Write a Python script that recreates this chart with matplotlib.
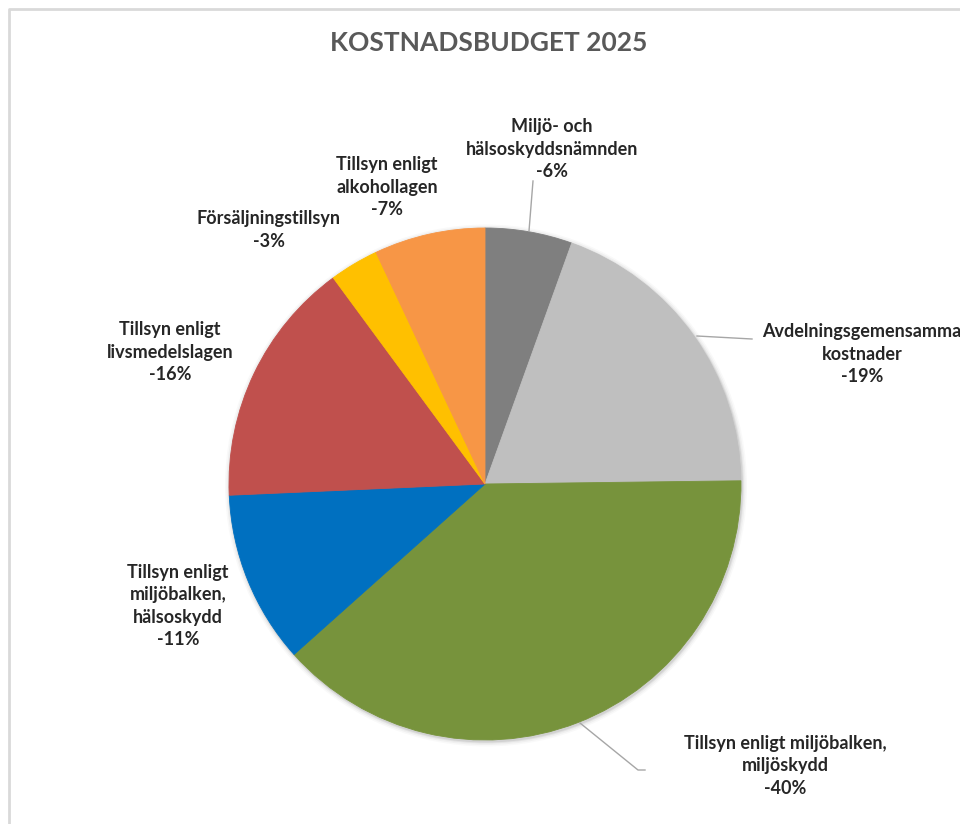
import matplotlib.pyplot as plt
from matplotlib.patches import Circle

# Slice data (clockwise from 12 o'clock)
categories = [
    'Miljö- och\nhälsoskyddsnämnden',
    'Avdelningsgemensamma\nkostnader',
    'Tillsyn enligt miljöbalken,\nmiljöskydd',
    'Tillsyn enligt\nmiljöbalken,\nhälsoskydd',
    'Tillsyn enligt\nlivsmedelslagen',
    'Försäljningstillsyn',
    'Tillsyn enligt\nalkohollagen',
]
values = [5.5, 19.3, 38.6, 10.9, 15.6, 3.1, 7.0]
pct_labels = ['-6%', '-19%', '-40%', '-11%', '-16%', '-3%', '-7%']
colors = ['#7f7f7f', '#bfbfbf', '#77933c', '#0070c0', '#c0504d', '#ffc000', '#f79646']

W, H = 960, 824


def px(x, y):
    # pixel position (origin top-left) -> axes data coords
    return x, H - y


fig = plt.figure(figsize=(W / 100, H / 100), dpi=100)
ax = fig.add_axes([0, 0, 1, 1])

cx, cy = px(485, 484)
radius = 256

# soft shadow around the pie
for extra, a in [(5, 0.025), (3.5, 0.035), (2, 0.05), (1, 0.07)]:
    ax.add_patch(Circle((cx + 1, cy - 1.5), radius + extra, color='black', alpha=a, lw=0, zorder=0))

ax.pie(values, colors=colors, startangle=90, counterclock=False,
       center=(cx, cy), radius=radius,
       wedgeprops=dict(linewidth=0.6, antialiased=True))
for w in ax.patches[4:]:
    w.set_edgecolor(w.get_facecolor())

ax.set_xlim(0, W)
ax.set_ylim(0, H)
ax.set_aspect('equal')
ax.axis('off')

# chart frame (light gray border, cut off at right/bottom)
ax.plot([8.5, 8.5, W + 5], [-5, H - 8.5, H - 8.5], color='#d9d9d9', lw=2, clip_on=False)

# title
ax.text(*px(489, 43), 'KOSTNADSBUDGET 2025', ha='center', va='center',
        fontsize=19, fontweight='bold', color='#595959', family='Lato')

# data labels (layout positions in pixels)
label_pos = [(552, 149), (862, 354), (785, 766), (178, 606), (170, 352), (269, 230), (387, 187)]
for (lx, ly), cat, pct in zip(label_pos, categories, pct_labels):
    ax.text(*px(lx, ly), cat + '\n' + pct, ha='center', va='center', multialignment='center',
            fontsize=13, fontweight='bold', color='#262626', family='Lato', linespacing=1.36)

# leader lines
leader = '#a6a6a6'
ax.plot(*zip(px(533, 181), px(529, 231)), color=leader, lw=1)
ax.plot(*zip(px(752, 339), px(697, 336)), color=leader, lw=1)
ax.plot(*zip(px(645, 770), px(638, 770), px(580, 723)), color=leader, lw=1)

plt.savefig('out.png', dpi=100, facecolor='white')
